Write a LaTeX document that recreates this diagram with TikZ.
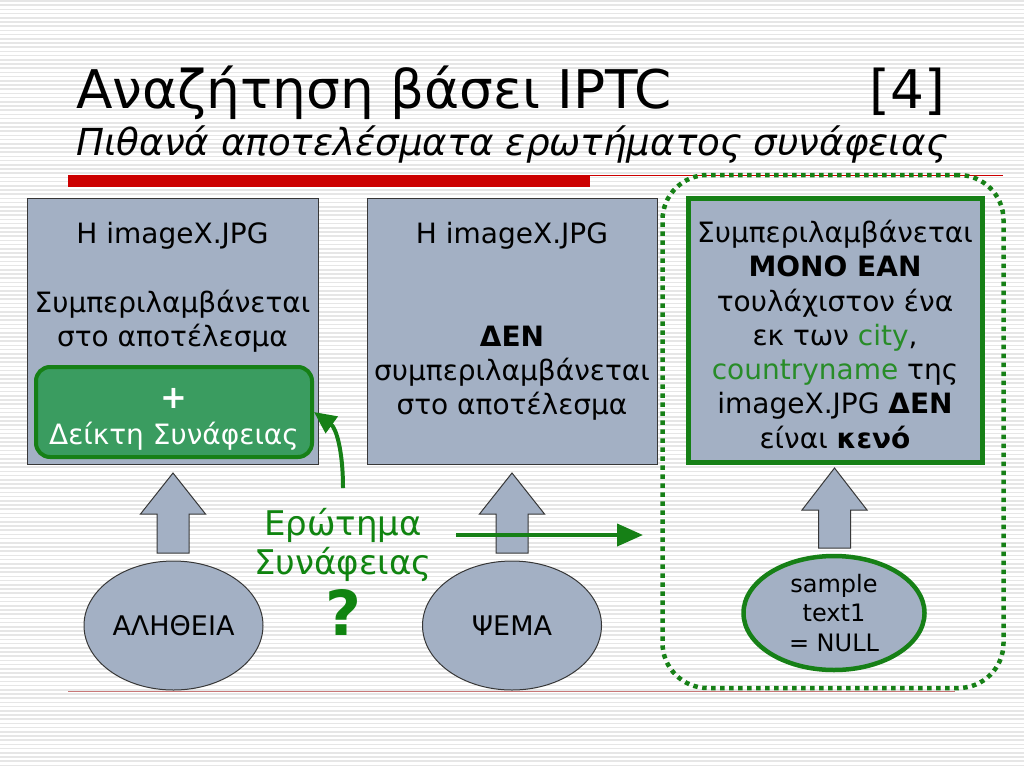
\documentclass[tikz,border=0pt]{standalone}
\usepackage{fontspec}
\setmainfont{DejaVu Sans}
\usetikzlibrary{arrows.meta,shapes.geometric}
\definecolor{boxfill}{RGB}{163,176,196}
\definecolor{boxline}{RGB}{55,55,55}
\definecolor{gfill}{RGB}{58,156,96}
\definecolor{gline}{RGB}{22,128,22}
\definecolor{gtext}{RGB}{16,132,16}
\definecolor{gword}{RGB}{40,140,40}
\definecolor{redbar}{RGB}{204,0,0}
\definecolor{stripe}{RGB}{230,230,230}
\definecolor{thinred}{RGB}{200,120,120}
\tikzset{
  plainbox/.style={draw=boxline, line width=1, fill=boxfill, inner sep=0},
  greenbox/.style={draw=gline, line width=5, fill=boxfill, inner sep=0},
  boxtext/.style={inner sep=0, align=center, anchor=north, font=\fontsize{28}{34.3}\selectfont},
  ovalnode/.style={ellipse, draw=boxline, line width=1, fill=boxfill, inner sep=0, font=\fontsize{27}{32}\selectfont},
  barrow/.style={draw=boxline, line width=1, fill=boxfill, line join=miter},
  garrow/.style={draw=gline, line width=4, -{Triangle[length=22, width=20]}},
}
\begin{document}
\begin{tikzpicture}[x=1pt,y=-1pt]
\useasboundingbox (0,0) rectangle (1024,768);
\fill[white] (0,0) rectangle (1024,768);
\foreach \i in {0,...,182} \draw[stripe, line width=1.6] (0,{\i*4.2+1}) -- (1024,{\i*4.2+1});

% title
\node[anchor=base west, inner sep=0, font=\fontsize{53.3}{60}\selectfont] (title) at (76,108) {Αναζήτηση βάσει IPTC};
\node[anchor=base east, inner sep=0, font=\fontsize{53.3}{60}\selectfont] (num) at (945,108) {[4]};
\node[anchor=base west, inner sep=0, font=\fontsize{37.2}{44}\selectfont\itshape] (sub) at (76,155) {Πιθανά αποτελέσματα ερωτήματος συνάφειας};

% rules
\fill[redbar] (68,175) rectangle (590,187);
\draw[redbar, line width=1] (590,175.5) -- (1003,175.5);
\draw[thinred, line width=1] (68,691) -- (955,691);

% group frame
\node[draw=gline, line width=4.5, dash pattern=on 4.5 off 4.5, rounded corners=45,
      minimum width=341, minimum height=513, inner sep=0] (grp) at (833,431.5) {};

% boxes
\node[plainbox, minimum width=291, minimum height=266] (box1) at (172.5,331) {};
\node[plainbox, minimum width=290, minimum height=266] (box2) at (512,331) {};
\node[greenbox, minimum width=294, minimum height=264] (box3) at (835,330) {};

\node[boxtext] (t1) at (172.5,219.2) {\strut Η imageX.JPG\\[34.3]Συμπεριλαμβάνεται\\στο αποτέλεσμα};
\node[draw=gline, line width=4, fill=gfill, rounded corners=14, minimum width=276, minimum height=90, inner sep=0] (gbox) at (174,412) {};
\node[inner sep=0, align=center, anchor=north, text=white, font=\fontsize{28}{36}\selectfont] (gt) at (174,382.8)
  {\strut{\fontsize{32}{36}\selectfont\textbf{+}}\\Δείκτη Συνάφειας};

\node[boxtext] (t2) at (512,219.2) {\strut Η imageX.JPG\\[68.6]\textbf{ΔΕΝ}\\συμπεριλαμβάνεται\\στο αποτέλεσμα};

\node[boxtext] (t3) at (835,218.2) {\strut Συμπεριλαμβάνεται\\\textbf{ΜΟΝΟ ΕΑΝ}\\τουλάχιστον ένα\\εκ των \textcolor{gword}{city},\\\textcolor{gword}{countryname} της\\imageX.JPG \textbf{ΔΕΝ}\\είναι \textbf{κενό}};

% ovals
\node[ovalnode, minimum width=179, minimum height=129] (ell1) at (173.5,625.5) {ΑΛΗΘΕΙΑ};
\node[ovalnode, minimum width=179, minimum height=129] (ell2) at (512,625.5) {ΨΕΜΑ};
\node[ovalnode, draw=gline, line width=4.5, minimum width=181, minimum height=114, align=center,
      font=\fontsize{24}{29.5}\selectfont] (ell3) at (834,613) {sample\\text1\\= NULL};

% block arrows
\foreach \cx/\tip/\base/\bot in {173/473/514/553, 512/473/514/553, 834.5/468/510/548} {
  \draw[barrow] ({\cx-16},\bot) -- ({\cx-16},\base) -- ({\cx-32.5},\base) -- (\cx,\tip)
     -- ({\cx+32.5},\base) -- ({\cx+16},\base) -- ({\cx+16},\bot) -- cycle;
}

% query
\node[inner sep=0, align=center, text=gtext, font=\fontsize{34}{35}\selectfont, anchor=north] (q) at (343,508.5) {\strut Ερώτημα\\Συνάφειας};
\node[inner sep=0, text=gtext, font=\fontsize{62}{64}\selectfont\bfseries, anchor=base] (qm) at (343,635) {?};

\coordinate (cstart) at (343,488);
\draw[garrow] (cstart) .. controls (343,450) and (336,428) .. (gbox.east);
\coordinate (hstart) at (456,535);
\coordinate (hend) at (643,535);
\draw[garrow, -{Triangle[length=26, width=22]}] (hstart) -- (hend);
\end{tikzpicture}
\end{document}
